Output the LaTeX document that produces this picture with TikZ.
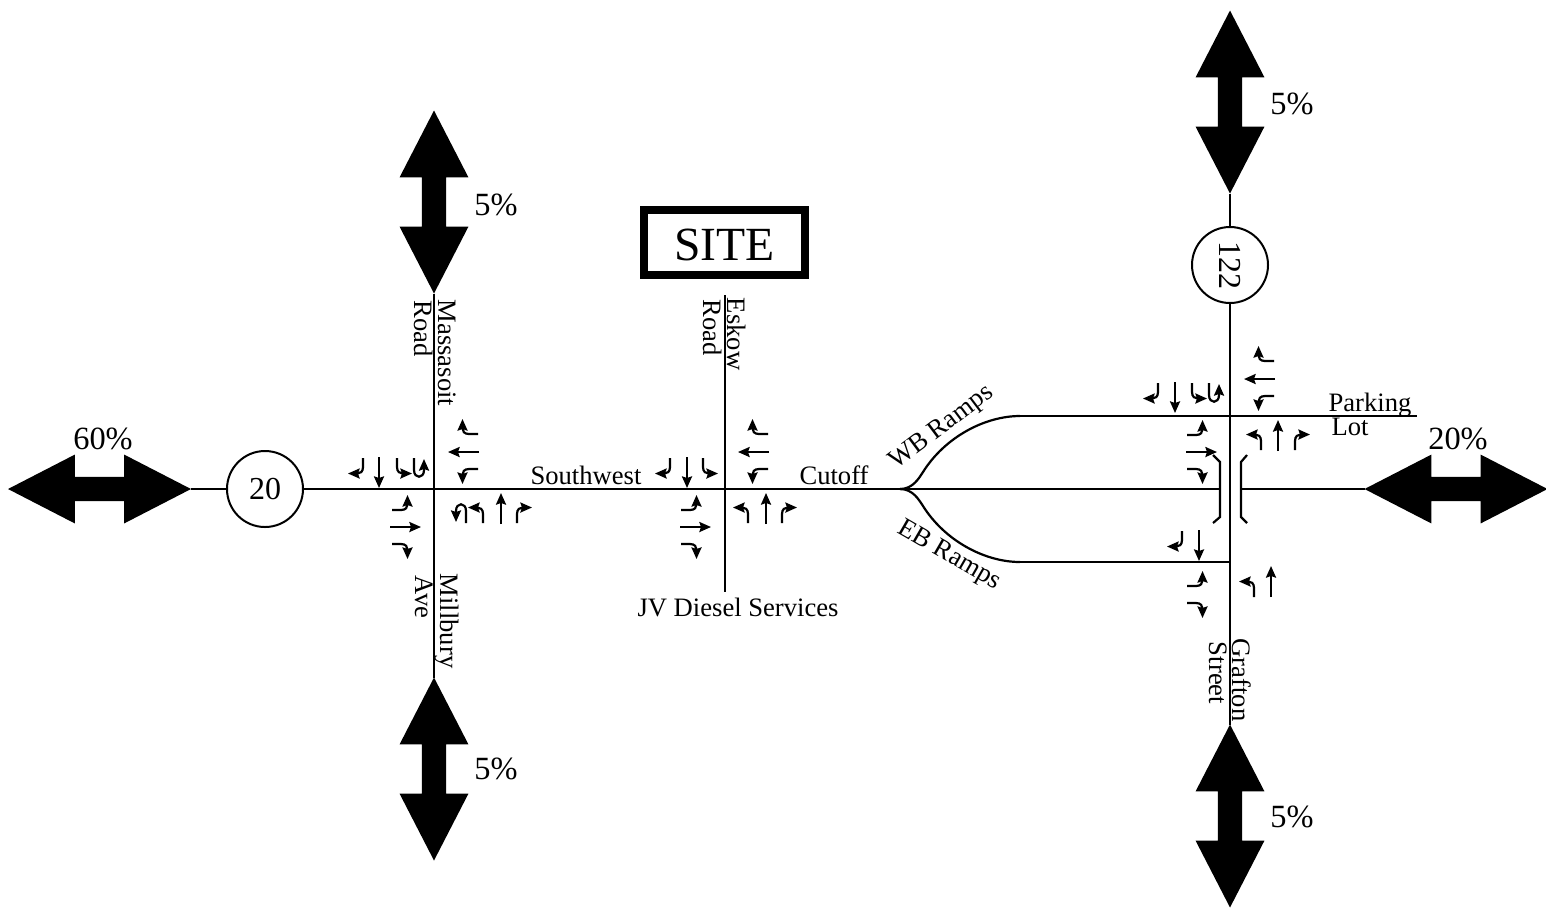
\documentclass[tikz,border=0pt]{standalone}
\usepackage{fontspec}
\setmainfont{Liberation Serif}
\usetikzlibrary{arrows.meta, shapes.arrows}

\tikzset{
    road/.style={line width=1.1pt},
    lane/.style={line width=1.1pt, -{Stealth[length=5.8pt, width=5pt, inset=0.8pt]}},
    bigarrow/.style={double arrow, fill=black, minimum height=91.5pt, minimum width=34pt, inner sep=0pt, inner ysep=5.9pt,
        double arrow head extend=11.1pt, double arrow tip angle=54.5, double arrow head indent=0pt, outer sep=0pt},
    shield/.style={draw, circle, fill=white, line width=1pt, minimum size=38pt, inner sep=0pt, font=\fontsize{16}{16}\selectfont},
    street/.style={inner sep=0pt, font=\fontsize{13.3}{13.3}\selectfont},
    share/.style={inner sep=0pt, font=\fontsize{16.2}{16.2}\selectfont},
    thrulane/.pic={\draw[lane] (0,0) -- (0,-31);},
    leftlane/.pic={\draw[lane] (0,0) -- (0,-9) .. controls (0,-14) and (-3,-15.5) .. (-15,-15.5);},
    rightlane/.pic={\draw[lane] (0,0) -- (0,-9) .. controls (0,-14) and (3,-15.5) .. (15,-15.5);},
    ulane/.pic={\draw[lane] (0,0) -- (0,-12) .. controls (0,-21) and (-10,-21) .. (-10,-12) -- (-10,-1);}
}

\begin{document}
\begin{tikzpicture}[x=0.5pt, y=-0.5pt]
    \useasboundingbox (0,0) rectangle (1546,907);

    % big arrows
    \node[bigarrow] (arrowW) at (99.5,489) {};
    \node[bigarrow] (arrowE) at (1456,489) {};
    \node[bigarrow, rotate=90] (arrowMN) at (434,202) {};
    \node[bigarrow, rotate=90] (arrowMS) at (434,769) {};
    \node[bigarrow, rotate=90] (arrowGN) at (1230,102) {};
    \node[bigarrow, rotate=90] (arrowGS) at (1230,816) {};

    \node[shield] (shieldA) at (265,489) {20};
    \node[shield, rotate=-90] (shieldB) at (1230,265) {122};

    \coordinate (split) at (900,489);
    \coordinate (medianW) at (1220,489);
    \coordinate (medianE) at (1241,489);
    \coordinate (wbBend) at (1020,416);
    \coordinate (ebBend) at (1020,562);
    \coordinate (lotEnd) at (1417,416);
    \coordinate (graftonEB) at (1230,562);
    \coordinate (eskowN) at (725,295);
    \coordinate (eskowS) at (725,592);

    % roads
    \draw[road] (arrowW) -- (shieldA) -- (medianW);
    \draw[road] (medianE) -- (arrowE);
    \draw[road] (arrowMN) -- (arrowMS);
    \draw[road] (eskowN) -- (eskowS);
    \draw[road] (arrowGN) -- (shieldB) -- (arrowGS);
    \draw[road] (wbBend) -- (lotEnd);
    \draw[road] (ebBend) -- (graftonEB);
    \draw[road] (split) .. controls (913,489) and (919,478) .. (923,472) .. controls (945,437) and (985,416) .. (wbBend);
    \draw[road] (split) .. controls (913,489) and (919,500) .. (923,506) .. controls (945,541) and (985,562) .. (ebBend);
    \draw[road] (1213,455) -- (1220,462) -- (1220,517) -- (1213,523);
    \draw[road] (1247,455) -- (1241,462) -- (1241,517) -- (1247,523);

    % Massasoit / Millbury
    \pic[rotate=180] at (363,458) {rightlane};
    \pic[rotate=180] at (379,457) {thrulane};
    \pic[rotate=180] at (397,458) {leftlane};
    \pic[rotate=180] at (414,458) {ulane};
    \pic[rotate=-90] at (392,510) {leftlane};
    \pic[rotate=-90] at (390,527) {thrulane};
    \pic[rotate=-90] at (392,544) {rightlane};
    \pic[rotate=90] at (478,434) {rightlane};
    \pic[rotate=90] at (479,452) {thrulane};
    \pic[rotate=90] at (478,469) {leftlane};
    \pic at (466,523) {ulane};
    \pic at (483,523) {leftlane};
    \pic at (501,524) {thrulane};
    \pic at (517,523) {rightlane};

    % Eskow
    \pic[rotate=180] at (670,458) {rightlane};
    \pic[rotate=180] at (687,457) {thrulane};
    \pic[rotate=180] at (703,458) {leftlane};
    \pic[rotate=-90] at (681,510) {leftlane};
    \pic[rotate=-90] at (680,527) {thrulane};
    \pic[rotate=-90] at (681,544) {rightlane};
    \pic[rotate=90] at (768,434) {rightlane};
    \pic[rotate=90] at (769,452) {thrulane};
    \pic[rotate=90] at (768,469) {leftlane};
    \pic at (748,523) {leftlane};
    \pic at (766,524) {thrulane};
    \pic at (782,523) {rightlane};

    % Grafton at WB ramps
    \pic[rotate=180] at (1158,383) {rightlane};
    \pic[rotate=180] at (1175,382) {thrulane};
    \pic[rotate=180] at (1192,383) {leftlane};
    \pic[rotate=180] at (1209,383) {ulane};
    \pic[rotate=-90] at (1187,435) {leftlane};
    \pic[rotate=-90] at (1186,452) {thrulane};
    \pic[rotate=-90] at (1187,469) {rightlane};
    \pic[rotate=90] at (1274,361) {rightlane};
    \pic[rotate=90] at (1275,379) {thrulane};
    \pic[rotate=90] at (1274,396) {leftlane};
    \pic at (1261,450) {leftlane};
    \pic at (1278,451) {thrulane};
    \pic at (1295,450) {rightlane};

    % Grafton at EB ramps
    \pic[rotate=180] at (1182,531) {rightlane};
    \pic[rotate=180] at (1199,530) {thrulane};
    \pic[rotate=-90] at (1187,586) {leftlane};
    \pic[rotate=-90] at (1187,603) {rightlane};
    \pic at (1254,597) {leftlane};
    \pic at (1271,597) {thrulane};

    \node[draw, line width=4pt, minimum width=80.5pt, minimum height=32.5pt, inner sep=0pt] (sitebox) at (724.5,242.5) {};
    \node[inner sep=0pt, font=\fontsize{23.8}{24}\selectfont] (site) at (724.5,244.5) {SITE};

    % labels
    \node[street, rotate=-90] (massasoit) at (447,353) {Massasoit};
    \node[street, rotate=-90] (massroad) at (424,329) {Road};
    \node[street, rotate=-90] (millbury) at (447,621) {Millbury};
    \node[street, rotate=-90] (millave) at (424,597) {Ave};
    \node[street, rotate=-90] (eskow) at (737,334) {Eskow};
    \node[street, rotate=-90] (eskowroad) at (713,328) {Road};
    \node[street, rotate=-90] (grafton) at (1242,680) {Grafton};
    \node[street, rotate=-90] (graftonst) at (1218,673) {Street};
    \node[street] (southwest) at (586,475) {Southwest};
    \node[street] (cutoff) at (834,475) {Cutoff};
    \node[street] (diesel) at (738,607) {JV Diesel Services};
    \node[street, rotate=37] (wbramps) at (942,428) {WB Ramps};
    \node[street, rotate=-30] (ebramps) at (949,556) {EB Ramps};
    \node[street] (parking) at (1370,405) {Parking};
    \node[street] (lot) at (1350,427) {Lot};

    \node[share] (shareW) at (103,439) {60\%};
    \node[share] (shareE) at (1458,439) {20\%};
    \node[share] (shareMN) at (496,205) {5\%};
    \node[share] (shareMS) at (496,769) {5\%};
    \node[share] (shareGN) at (1292,104) {5\%};
    \node[share] (shareGS) at (1292,817) {5\%};
\end{tikzpicture}
\end{document}
